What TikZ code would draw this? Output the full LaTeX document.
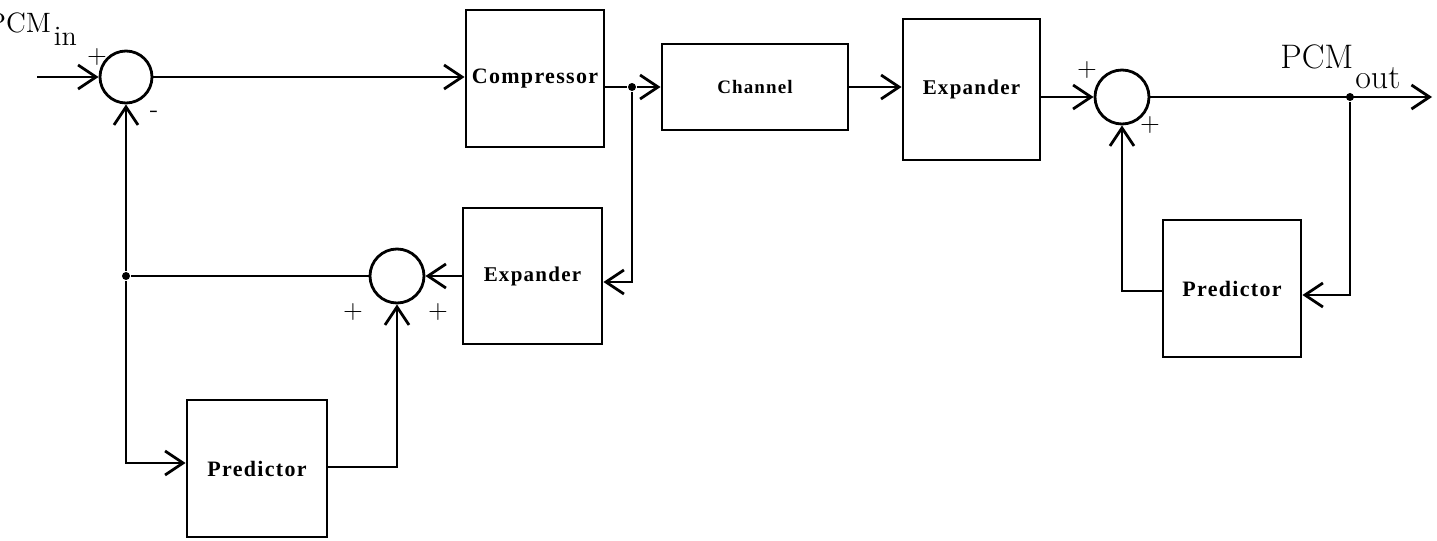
\documentclass[tikz,border=0pt]{standalone}
\usepackage{fontspec}
\newfontfamily\boxfont[LetterSpace=6]{Liberation Serif}
\usetikzlibrary{arrows.meta}
\begin{document}
\begin{tikzpicture}[x=0.5pt,y=-0.5pt, line width=1.4pt,
  blk/.style={draw, rectangle, inner sep=0pt, font=\boxfont\bfseries\fontsize{10.5}{12}\selectfont},
  sumnode/.style={draw, circle, inner sep=0pt, minimum size=#1},
  arr/.style={-{Straight Barb[length=9pt,width=12pt]}},
  jdot/.style={circle, fill, inner sep=0pt, minimum size=4pt},
  sign/.style={font=\fontsize{13}{15}\selectfont, inner sep=0pt}]
\useasboundingbox (0,0) rectangle (1437,541);
\clip (0,0) rectangle (1437,541);

% blocks
\node[blk, minimum width=69pt, minimum height=68.5pt, font=\boxfont\bfseries\fontsize{11}{12}\selectfont] (comp) at (535,78.5) {Compressor};
\node[blk, minimum width=93pt, minimum height=43pt, font=\boxfont\bfseries\fontsize{9.5}{11}\selectfont] (chan) at (755,87) {Channel};
\node[blk, minimum width=68.5pt, minimum height=70.5pt] (exp1) at (971.5,89.5) {Expander};
\node[blk, minimum width=69.5pt, minimum height=68pt] (exp2) at (532.5,276) {Expander};
\node[blk, minimum width=70pt, minimum height=68.5pt, font=\boxfont\bfseries\fontsize{11}{12}\selectfont] (pred1) at (257,468.5) {Predictor};
\node[blk, minimum width=69pt, minimum height=68.5pt, font=\boxfont\bfseries\fontsize{11}{12}\selectfont] (pred2) at (1232,288.5) {Predictor};

% summing junctions
\node[sumnode=26pt] (sum1) at (126,77) {};
\node[sumnode=27pt] (sum2) at (1122,97) {};
\node[sumnode=27pt] (sum3) at (397,276) {};

% junction dots
\node[jdot] (j1) at (632,87) {};
\node[jdot] (j2) at (126,276) {};
\node[jdot] (j3) at (1350,97) {};

% helper coordinates
\coordinate (inp) at (37,77);
\coordinate (outtip) at (1432,97);
\coordinate (c1) at (1350,295);
\coordinate (c2) at (1122,291);
\coordinate (c3) at (632,282);
\coordinate (c4) at (126,463);
\coordinate (c5) at (397,467);

% labels
\node[anchor=base west, inner sep=0pt, font=\fontsize{14}{16}\selectfont] (pcmin) at (-14,32) {PCM\kern1.5pt\raisebox{-6.5pt}{in}};
\node[anchor=base west, inner sep=0pt, font=\fontsize{17}{20}\selectfont] (pcmout) at (1279,68) {PCM\kern1pt\raisebox{-10pt}{out}};

% signs
\node[sign] (p1) at (97,57) {+};
\node[sign] (m1) at (154,114) {-};
\node[sign] (p2) at (1087,70) {+};
\node[sign] (p3) at (1150,125) {+};
\node[sign] (p4) at (353,312) {+};
\node[sign] (p5) at (438,312) {+};

% connectors
\draw[arr] (inp) -- (sum1.west);
\draw[arr] (sum1.east) -- (sum1.east -| comp.west);
\draw (comp.east |- j1) -- (j1);
\draw[arr] (j1) -- (j1 -| chan.west);
\draw[arr] (chan.east) -- (chan.east -| exp1.west);
\draw[arr] (sum2.west -| exp1.east) -- (sum2.west);
\draw[arr] (sum2.east) -- (outtip);
\draw[arr] (j3) -- (c1) -- (c1 -| pred2.east);
\draw[arr] (c2 -| pred2.west) -- (c2) -- (sum2.south);
\draw[arr] (j1) -- (c3) -- (c3 -| exp2.east);
\draw[arr] (exp2.west) -- (sum3.east);
\draw (sum3.west) -- (j2);
\draw[arr] (j2) -- (sum1.south);
\draw[arr] (j2) -- (c4) -- (c4 -| pred1.west);
\draw[arr] (c5 -| pred1.east) -- (c5) -- (sum3.south);
\end{tikzpicture}
\end{document}
